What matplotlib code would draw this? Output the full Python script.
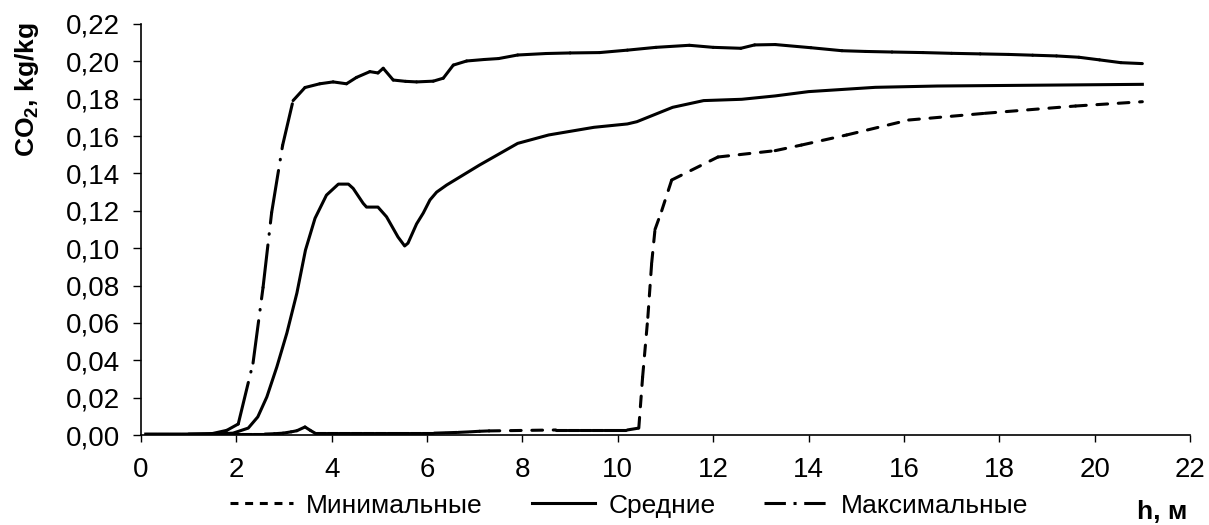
import numpy as np
import matplotlib
matplotlib.use("Agg")
import matplotlib.pyplot as plt
from matplotlib.lines import Line2D
from matplotlib.collections import LineCollection

plt.rcParams['font.family'] = ['Liberation Sans', 'DejaVu Sans']
plt.rcParams['mathtext.fontset'] = 'custom'
plt.rcParams['mathtext.rm'] = 'Liberation Sans:bold'

# minimum
h_min = [0.1, 0.35, 0.6, 0.85, 1.1, 1.35, 1.6, 1.85, 2.1, 2.35, 2.6, 2.8, 2.98, 3.15,
         3.27, 3.44, 3.55, 3.65, 3.9, 4.15, 4.4, 4.65, 4.9, 5.15, 5.4, 5.65, 5.9, 6.15,
         6.4, 6.65, 6.9, 7.1, 7.3, 8.7, 8.95, 9.2, 9.45, 9.7, 9.95, 10.2, 10.44, 10.52,
         10.63, 10.71, 10.78, 10.92, 11.13, 12.1, 13.3, 13.85, 14.8, 16.1, 17.7, 19.6,
         21.0]
co2_min = [0.0005, 0.0005, 0.0005, 0.0005, 0.0005, 0.0005, 0.0005, 0.0005, 0.0005,
           0.0005, 0.0005, 0.0007, 0.001, 0.0017, 0.0023, 0.0043, 0.0025, 0.001, 0.001,
           0.001, 0.001, 0.001, 0.001, 0.001, 0.001, 0.001, 0.001, 0.001, 0.0012, 0.0014,
           0.0017, 0.002, 0.0022, 0.0027, 0.0027, 0.0027, 0.0027, 0.0027, 0.0027, 0.0027,
           0.0037, 0.031, 0.063, 0.092, 0.110, 0.120, 0.1365, 0.1488, 0.1522, 0.1552,
           0.1606, 0.1686, 0.1722, 0.1761, 0.1784]

# mean
h_mean = [0.1, 1.5, 1.93, 2.25, 2.45, 2.64, 2.85, 3.06, 3.27, 3.45, 3.65, 3.89, 4.14,
          4.35, 4.45, 4.66, 4.73, 4.97, 5.15, 5.39, 5.53, 5.6, 5.78, 5.92, 6.06, 6.2,
          6.41, 7.1, 7.9, 8.55, 9.5, 10.2, 10.4, 11.15, 11.8, 12.6, 13.3, 14.0, 15.4,
          16.7, 21.0]
co2_mean = [0.0005, 0.0005, 0.001, 0.0037, 0.0097, 0.0204, 0.0365, 0.0546, 0.076, 0.099,
            0.116, 0.1284, 0.1343, 0.1343, 0.132, 0.124, 0.122, 0.122, 0.1168, 0.106,
            0.1012, 0.1027, 0.113, 0.1188, 0.1258, 0.130, 0.1338, 0.1445, 0.1561, 0.1606,
            0.1647, 0.1665, 0.1677, 0.1754, 0.179, 0.1797, 0.1815, 0.1838, 0.1861,
            0.1868, 0.1877]

# maximum
h_max = [0.1, 0.6, 1.0, 1.5, 1.8, 2.04, 2.35, 2.56, 2.74, 2.97, 3.19, 3.44, 3.75, 4.03,
         4.31, 4.52, 4.80, 4.97, 5.08, 5.29, 5.55, 5.78, 6.13, 6.34, 6.55, 6.83, 7.2,
         7.5, 7.9, 8.5, 9.0, 9.62, 10.2, 10.8, 11.5, 12.0, 12.58, 12.87, 13.3, 14.05,
         14.7, 15.2, 15.75, 16.4, 17.0, 17.6, 18.2, 18.7, 19.2, 19.67, 20.1, 20.55, 21.0]
co2_max = [0.0005, 0.0005, 0.0005, 0.0008, 0.0025, 0.0059, 0.0385, 0.079, 0.119, 0.155,
           0.179, 0.186, 0.188, 0.189, 0.188, 0.1914, 0.1945, 0.1938, 0.1963, 0.190,
           0.1893, 0.189, 0.1894, 0.191, 0.198, 0.2002, 0.201, 0.2015, 0.2034, 0.2042,
           0.2045, 0.2047, 0.206, 0.2075, 0.2086, 0.2075, 0.207, 0.2088, 0.209, 0.2073,
           0.2057, 0.2053, 0.205, 0.2047, 0.2043, 0.204, 0.2037, 0.2033, 0.2029, 0.2022,
           0.2008, 0.1993, 0.1988]

x_ticks = list(range(0, 23, 2))
y_ticks = [0.00, 0.02, 0.04, 0.06, 0.08, 0.10, 0.12, 0.14, 0.16, 0.18, 0.20, 0.22]
y_labels = [f"{v:.2f}".replace('.', ',') for v in y_ticks]
names = ['Минимальные', 'Средние', 'Максимальные']

lw = 2.2
dash_min = (0, (3.5, 3.5))
dash_max = (0, (14, 3.5, 0.2, 3.5))


def excel_line(ax, x, y, style):
    # every segment gets its own dash pattern, as Excel draws it
    pts = np.column_stack([x, y])
    segs = np.stack([pts[:-1], pts[1:]], axis=1)
    lc = LineCollection(segs, colors='black', linewidths=lw, linestyles=style,
                        capstyle='round', joinstyle='round')
    ax.add_collection(lc)


fig = plt.figure(figsize=(12.09, 5.25), dpi=100)
ax = fig.add_axes([0.1166, 0.1714, 0.8677, 0.7829])

excel_line(ax, h_min, co2_min, dash_min)
ax.plot(h_mean, co2_mean, color='black', lw=lw, linestyle='-', solid_joinstyle='round')
excel_line(ax, h_max, co2_max, dash_max)

ax.set_xlim(0, 22)
ax.set_ylim(0, 0.22)
ax.set_xticks(x_ticks)
ax.set_yticks(y_ticks)
ax.set_yticklabels(y_labels)
for s in ['top', 'right']:
    ax.spines[s].set_visible(False)
for s in ['left', 'bottom']:
    ax.spines[s].set_linewidth(1.2)
ax.tick_params(axis='y', direction='out', length=6, width=1, labelsize=20, pad=9)
ax.tick_params(axis='x', direction='out', length=5, width=1, labelsize=20, pad=11)

handles = [
    Line2D([], [], color='black', lw=lw, linestyle=(0, (2.6, 2.2)), dash_capstyle='butt'),
    Line2D([], [], color='black', lw=lw, linestyle='-'),
    Line2D([], [], color='black', lw=lw, linestyle=(0, (7, 2.5, 1, 2.5)), dash_capstyle='butt'),
]
fig.legend(handles, names, loc='center left', bbox_to_anchor=(0.19, 0.037),
           ncol=3, frameon=False, fontsize=19, handlelength=2.4,
           handletextpad=0.5, columnspacing=1.85, borderpad=0, borderaxespad=0)

fig.text(0.961, 0.024, 'h, м', fontsize=19, fontweight='bold', ha='center', va='center')
fig.text(0.022, 0.83, r'CO$_2$, kg/kg', fontsize=19, fontweight='bold',
         rotation=90, ha='center', va='center')

fig.savefig('out.png', dpi=100)
